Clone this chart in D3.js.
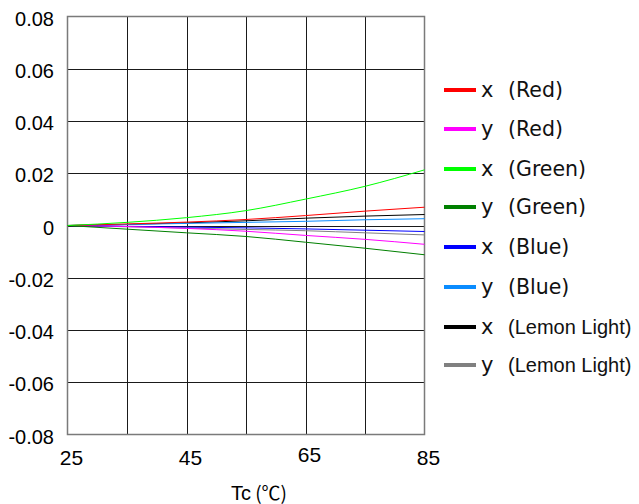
<!DOCTYPE html>
<html><head><meta charset="utf-8">
<script src="https://cdn.jsdelivr.net/npm/d3@7"></script>
<style>body{margin:0;background:#fff}svg{display:block}</style>
</head><body>
<svg id="c" width="639" height="504"></svg>
<script>
const temps = [25,35,45,55,65,75,85];
const xRed    = [0, 0.0006, 0.0013, 0.0023, 0.0038, 0.0055, 0.0070];
const yRed    = [0,-0.0004,-0.0011,-0.0022,-0.0038,-0.0053,-0.0072];
const xGreen  = [0, 0.0012, 0.0030, 0.0057, 0.0101, 0.0150, 0.0213];
const yGreen  = [0,-0.0014,-0.0028,-0.0042,-0.0064,-0.0087,-0.0112];
const xBlue   = [0,-0.0003,-0.0006,-0.0009,-0.0013,-0.0018,-0.0023];
const yBlue   = [0, 0.0004, 0.0008, 0.0012, 0.0016, 0.0022, 0.0026];
const xLemon  = [0, 0.0004, 0.0010, 0.0018, 0.0028, 0.0036, 0.0042];
const yLemon  = [0,-0.0005,-0.0010,-0.0015,-0.0020,-0.0028,-0.0036];
const seriesNames = ["x","y","x","y","x","y","x","y"];
const seriesGroups = ["(Red)","(Red)","(Green)","(Green)","(Blue)","(Blue)","(Lemon Light)","(Lemon Light)"];
const seriesColors = ["#ff0000","#ff00ff","#00ff00","#008000","#0000ff","#0a8cff","#000000","#808080"];
const seriesValues = [xRed,yRed,xGreen,yGreen,xBlue,yBlue,xLemon,yLemon];
const xTickLabels = [25,45,65,85];
const yTicks = [0.08,0.06,0.04,0.02,0,-0.02,-0.04,-0.06,-0.08];
const yTickLabels = ["0.08","0.06","0.04","0.02","0","-0.02","-0.04","-0.06","-0.08"];
const xGrid = [35,45,55,65,75];

const svg = d3.select("#c");
const L=67.5, R=424.5, T=16.5, B=434.5;
const x = d3.scaleLinear().domain([25,85]).range([L,R]);
const y = d3.scaleLinear().domain([-0.08,0.08]).range([B,T]);
const sans = "Liberation Sans, Arial, sans-serif";

const g = svg.append("g");
g.selectAll(".vg").data(xGrid).enter().append("line")
  .attr("x1",d=>Math.round(x(d))+0.5).attr("x2",d=>Math.round(x(d))+0.5)
  .attr("y1",T).attr("y2",B).attr("stroke","#1a1a1a").attr("stroke-width",1);
g.selectAll(".hg").data(yTicks.slice(1,-1)).enter().append("line")
  .attr("y1",d=>Math.round(y(d))+0.5).attr("y2",d=>Math.round(y(d))+0.5)
  .attr("x1",L).attr("x2",R).attr("stroke","#1a1a1a").attr("stroke-width",1);
g.append("rect").attr("x",L).attr("y",T).attr("width",R-L).attr("height",B-T)
  .attr("fill","none").attr("stroke","#7a7a7a").attr("stroke-width",1.5);

svg.selectAll(".yl").data(yTicks).enter().append("text")
  .attr("x",54).attr("y",d=>y(d)+2).attr("text-anchor","end").attr("dominant-baseline","central")
  .attr("font-family",sans).attr("font-size",20).attr("fill","#000")
  .text((d,i)=>yTickLabels[i]);
svg.selectAll(".xl").data(xTickLabels).enter().append("text")
  .attr("x",d=>x(d)+4).attr("y",d=>d===65?462:465).attr("text-anchor","middle")
  .attr("font-family",sans).attr("font-size",21).attr("fill","#000")
  .text(d=>d);
const tt = svg.append("text").attr("x",259).attr("y",500).attr("text-anchor","middle")
  .attr("font-family",sans).attr("font-size",20).attr("fill","#000");
tt.append("tspan").text("Tc");
tt.append("tspan").attr("font-family","Noto Sans CJK SC, sans-serif").attr("font-size",19).text(" (℃)");

const line = d3.line().x((d,i)=>x(temps[i])).y(d=>y(d)).curve(d3.curveMonotoneX);
const order = [7,6,5,4,1,0,3,2];
order.forEach(k=>{
  svg.append("path").datum(seriesValues[k]).attr("d",line)
    .attr("fill","none").attr("stroke",seriesColors[k]).attr("stroke-width",1);
});

const legY = [90,129,169,207,247,287,327,365];
seriesNames.forEach((n,i)=>{
  svg.append("line").attr("x1",444).attr("x2",476).attr("y1",legY[i]).attr("y2",legY[i])
    .attr("stroke",seriesColors[i]).attr("stroke-width",4);
  const lemon = seriesGroups[i].indexOf("Lemon")>=0;
  const t = svg.append("text").attr("x",481).attr("y",legY[i]+7).attr("fill","#111")
    .attr("font-family","DejaVu Sans, sans-serif").attr("font-size",21);
  t.append("tspan").text(n);
  t.append("tspan").attr("x",508)
    .attr("font-family",lemon?sans:"DejaVu Sans, sans-serif")
    .attr("font-size",lemon?20:20.5).text(seriesGroups[i]);
});
</script>
</body></html>
